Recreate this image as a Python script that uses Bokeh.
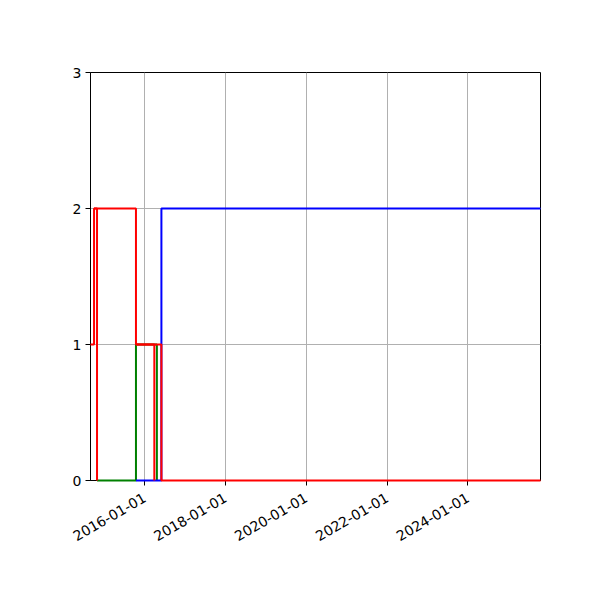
import numpy as np
from math import pi

from bokeh.embed import file_html
from bokeh.models import DatetimeTickFormatter, FixedTicker, Range1d
from bokeh.plotting import figure
from bokeh.resources import INLINE

# step series (value holds until the next date)
red_a_dates = ["2014-08-29", "2014-09-30", "2014-10-27"]
red_a_values = [1, 2, 0]
red_b_dates = ["2014-09-30", "2015-10-14", "2016-03-28"]
red_b_values = [2, 1, 0]
red_c_dates = ["2015-10-14", "2016-05-31", "2025-10-18"]
red_c_values = [1, 0, 0]
green_dates = ["2014-10-27", "2015-10-14", "2016-04-20"]
green_values = [0, 1, 0]
blue_dates = ["2015-10-14", "2016-05-31", "2025-10-18"]
blue_values = [0, 2, 2]

x_start = "2014-08-29"
x_end = "2025-10-18"
x_tick_dates = ["2016-01-01", "2018-01-01", "2020-01-01", "2022-01-01", "2024-01-01"]
y_ticks = [0, 1, 2, 3]


def to_ms(dates):
    return (np.array(dates, dtype="datetime64[ms]").astype("int64")).tolist()


p = figure(width=592, height=592, x_axis_type="datetime",
           output_backend="svg", toolbar_location=None, tools="",
           min_border_left=90, min_border_right=52, min_border_top=72, min_border_bottom=112)
p.x_range = Range1d(to_ms([x_start])[0], to_ms([x_end])[0])
p.y_range = Range1d(0, 3)

series = [
    (green_dates, green_values, "green"),
    (blue_dates, blue_values, "blue"),
    (red_a_dates, red_a_values, "red"),
    (red_b_dates, red_b_values, "red"),
    (red_c_dates, red_c_values, "red"),
]
for dates, values, color in series:
    r = p.step(to_ms(dates), values, mode="after", line_color=color, line_width=2)
    r.level = "overlay"

p.xaxis.ticker = FixedTicker(ticks=to_ms(x_tick_dates))
p.xaxis.formatter = DatetimeTickFormatter(days="%Y-%m-%d", months="%Y-%m-%d", years="%Y-%m-%d")
p.xaxis.major_label_orientation = pi / 6
p.yaxis.ticker = FixedTicker(ticks=y_ticks)

for ax in [p.xaxis[0], p.yaxis[0]]:
    ax.axis_line_color = "black"
    ax.major_tick_line_color = "black"
    ax.major_tick_out = 5
    ax.major_tick_in = 0
    ax.minor_tick_line_color = None
    ax.major_label_text_font = "DejaVu Sans"
    ax.major_label_text_font_size = "14px"
    ax.major_label_text_color = "black"
    ax.major_label_standoff = 4
p.xaxis.major_label_standoff = 11

p.grid.grid_line_color = "#b0b0b0"
p.grid.grid_line_width = 1
p.outline_line_color = "black"
p.outline_line_alpha = 1
p.outline_line_width = 1
p.background_fill_color = "white"
p.border_fill_color = "white"

open("out.html", "w").write(file_html(p, INLINE))
